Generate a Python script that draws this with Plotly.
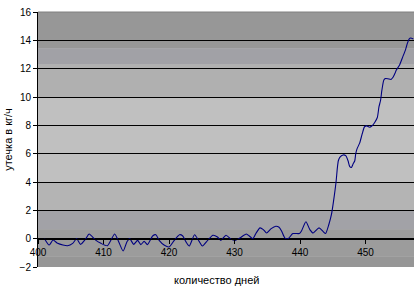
import plotly.graph_objects as go

days = [401.0, 401.7, 402.3, 403.0, 403.8, 404.5, 405.3, 405.9, 406.5, 407.3,
        407.8, 408.8, 409.6, 410.6, 411.7, 412.3, 413.0, 413.6, 414.0, 414.6,
        415.2, 415.7, 416.2, 416.7, 417.5, 418.0, 418.5, 419.3, 420.0, 420.8,
        421.6, 422.1, 422.6, 423.1, 423.9, 424.6, 425.1, 425.9, 426.7, 427.4,
        427.9, 428.7, 429.5, 430.1, 430.8, 431.8, 432.3, 432.8, 433.3, 433.9,
        434.4, 434.9, 435.6, 436.3, 436.8, 437.2, 437.7, 438.2, 438.9, 439.9,
        440.2, 440.9, 441.5, 442.0, 442.9, 443.5, 443.9, 444.4, 444.8, 445.1,
        445.5, 445.7, 445.85, 446.07, 446.57, 446.98, 447.33, 447.6, 447.85, 448.1,
        448.36, 448.5, 448.7, 449.1, 449.5, 449.85, 450.2, 450.6, 451.0, 451.4,
        451.8, 452.05, 452.3, 452.5, 452.8, 453.05, 453.4, 453.9, 454.2, 454.5,
        454.7, 455.2, 455.7, 456.1, 456.4, 456.65, 456.9, 457.3]
leak = [0.0, -0.45, -0.1, -0.33, -0.45, -0.5, -0.33, 0.0, -0.4, 0.0,
        0.33, -0.1, -0.33, -0.5, 0.33, -0.2, -0.87, -0.2, 0.0, -0.4,
        -0.12, -0.42, -0.19, -0.42, 0.19, 0.28, -0.12, -0.47, -0.59, -0.12,
        0.28, 0.19, -0.23, -0.52, 0.28, -0.19, -0.52, -0.12, 0.24, 0.12,
        -0.12, 0.24, -0.05, -0.12, 0.04, 0.33, 0.17, 0.0, 0.4, 0.76,
        0.64, 0.4, 0.71, 0.88, 0.81, 0.52, 0.04, 0.0, 0.36, 0.36,
        0.52, 1.19, 0.64, 0.4, 0.76, 0.52, 0.36, 1.0, 1.71, 2.6,
        4.0, 5.0, 5.5, 5.74, 5.91, 5.86, 5.5, 5.08, 5.03, 5.27,
        5.5, 5.98, 6.34, 6.74, 7.41, 7.9, 7.96, 7.87, 7.97, 8.2,
        8.55, 9.3, 9.77, 10.48, 11.2, 11.3, 11.29, 11.24, 11.39, 11.67,
        11.9, 12.26, 12.85, 13.33, 13.8, 14.09, 14.16, 14.09]

y_ticks = [-2, 0, 2, 4, 6, 8, 10, 12, 14, 16]
x_ticks = [400, 410, 420, 430, 440, 450]

# background bands (value ranges) and colours
band_edges = [16, 13.45, 12.3, 9.97, 4.0, 2.0, 0.66, -1.26, -2]
band_colors = ["#979797", "#a1a1a6", "#b0b0b0", "#c0c0c0", "#b4b4b4",
               "#a2a2a7", "#9c9c9c", "#969696"]

FONT = "Liberation Sans, Arial, sans-serif"

fig = go.Figure()
fig.add_trace(go.Scatter(x=days, y=leak, mode="lines",
                         line=dict(color="#000080", width=1.1, shape="spline", smoothing=0.6),
                         hoverinfo="skip", showlegend=False))

shapes = []
for i, c in enumerate(band_colors):
    shapes.append(dict(type="rect", xref="paper", yref="y", x0=0, x1=1,
                       y0=band_edges[i + 1], y1=band_edges[i],
                       fillcolor=c, line=dict(width=0), layer="below"))
shapes.append(dict(type="line", xref="paper", yref="paper", x0=0, x1=1, y0=1, y1=1,
                   line=dict(color="#808080", width=1), layer="above"))

fig.update_layout(
    width=415, height=295,
    margin=dict(l=38, r=1, t=12, b=28),
    paper_bgcolor="white", plot_bgcolor="#c0c0c0",
    font=dict(family=FONT, size=10, color="black"),
    shapes=shapes,
    xaxis=dict(range=[400, 457.4], tickvals=x_ticks, ticktext=[str(v) for v in x_ticks],
               anchor="free", position=2 / 18, showline=True, linecolor="black", linewidth=1,
               ticks="outside", ticklen=4, tickcolor="black", showgrid=False, zeroline=False,
               tickfont=dict(size=10)),
    yaxis=dict(range=[-2, 16], tickvals=y_ticks, showline=True, linecolor="black", linewidth=1,
               ticks="outside", ticklen=4, tickcolor="black", showgrid=True,
               gridcolor="black", gridwidth=1, zeroline=False, tickfont=dict(size=10),
               title=dict(text="утечка в кг/ч", font=dict(size=11), standoff=4)),
    annotations=[dict(text="количество дней", xref="paper", yref="paper", x=0.475, y=-0.051,
                      xanchor="center", yanchor="middle", showarrow=False, font=dict(size=11))],
)

fig.write_html("out.html")
